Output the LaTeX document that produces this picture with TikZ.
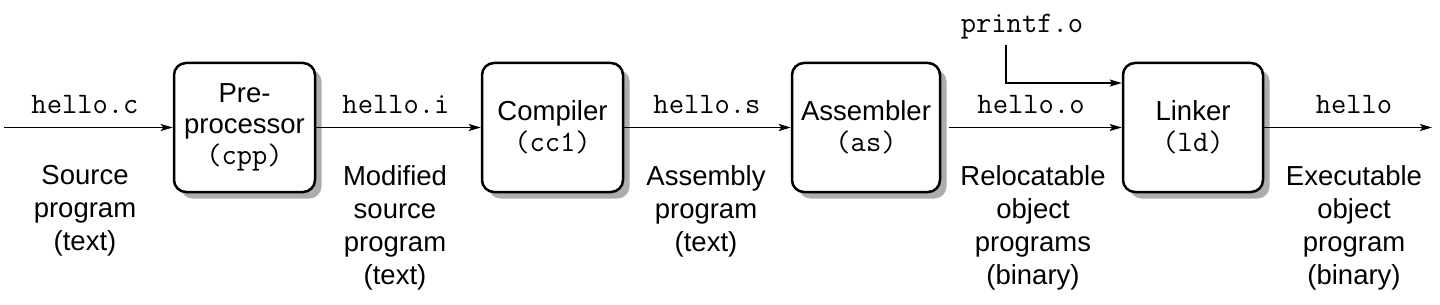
\documentclass[tikz,border=0pt]{standalone}
\usepackage{fontspec}
\setmainfont{Liberation Sans}
\setsansfont{Liberation Sans}
\usetikzlibrary{arrows.meta,shadows}
\newcommand{\mytt}{\ttfamily\fontsize{29.7pt}{31pt}\selectfont}
\tikzset{
  stage/.style={draw, line width=2.5pt, rounded corners=12pt, fill=white,
    minimum height=129pt, align=center, inner sep=0pt,
    font=\fontsize{27.5pt}{31pt}\selectfont,
    drop shadow={shadow xshift=6.5pt, shadow yshift=-6.5pt, fill=black!32, opacity=1}},
  file/.style={anchor=base, inner sep=0pt, font=\mytt},
  desc/.style={anchor=north, inner sep=0pt, align=center, font=\fontsize{27.5pt}{33pt}\selectfont},
  arr/.style={line width=1.4pt, -{Stealth[length=12pt,width=7pt,inset=2.5pt]}}
}
\begin{document}
\begin{tikzpicture}
\useasboundingbox (0,0) rectangle (1440pt,-305pt);
% boxes
\node[stage, minimum width=141pt] (cpp) at (244.5pt,-127.5pt) {Pre-\\processor\\{\mytt(cpp)}};
\node[stage, minimum width=141pt] (cc) at (552.5pt,-127.5pt) {Compiler\\{\mytt(cc1)}};
\node[stage, minimum width=148pt] (as) at (866pt,-127.5pt) {Assembler\\{\mytt(as)}};
\node[stage, minimum width=140pt] (ld) at (1193pt,-127.5pt) {Linker\\{\mytt(ld)}};
% file labels
\node[file] (fc) at (85pt,-113pt) {hello.c};
\node[file] (fi) at (396pt,-113pt) {hello.i};
\node[file] (fs) at (707pt,-113pt) {hello.s};
\node[file] (fo) at (1031pt,-113pt) {hello.o};
\node[file] (fx) at (1354pt,-113pt) {hello};
\node[file] (pf) at (1022pt,-33pt) {printf.o};
% descriptions
\node[desc] (d1) at (85pt,-165pt) {Source\\program\\(text)};
\node[desc] (d2) at (395pt,-165pt) {Modified\\source\\program\\(text)};
\node[desc] (d3) at (706pt,-165pt) {Assembly\\program\\(text)};
\node[desc] (d4) at (1033pt,-165pt) {Relocatable\\object\\programs\\(binary)};
\node[desc] (d5) at (1354pt,-165pt) {Executable\\object\\program\\(binary)};
% connectors
\coordinate (src) at (4pt,-127.5pt);
\coordinate (dst) at (1432pt,-127.5pt);
\coordinate (pfs) at (1006pt,-45pt);
\draw[arr] (src) -- (cpp.west);
\draw[arr] (cpp.east) -- (cc.west);
\draw[arr] (cc.east) -- (as.west);
\draw[arr] ([xshift=8pt]as.east) -- (ld.west);
\draw[arr] (ld.east) -- (dst);
\draw[arr] (pfs) |- ([yshift=44.5pt]ld.west);
\end{tikzpicture}
\end{document}
